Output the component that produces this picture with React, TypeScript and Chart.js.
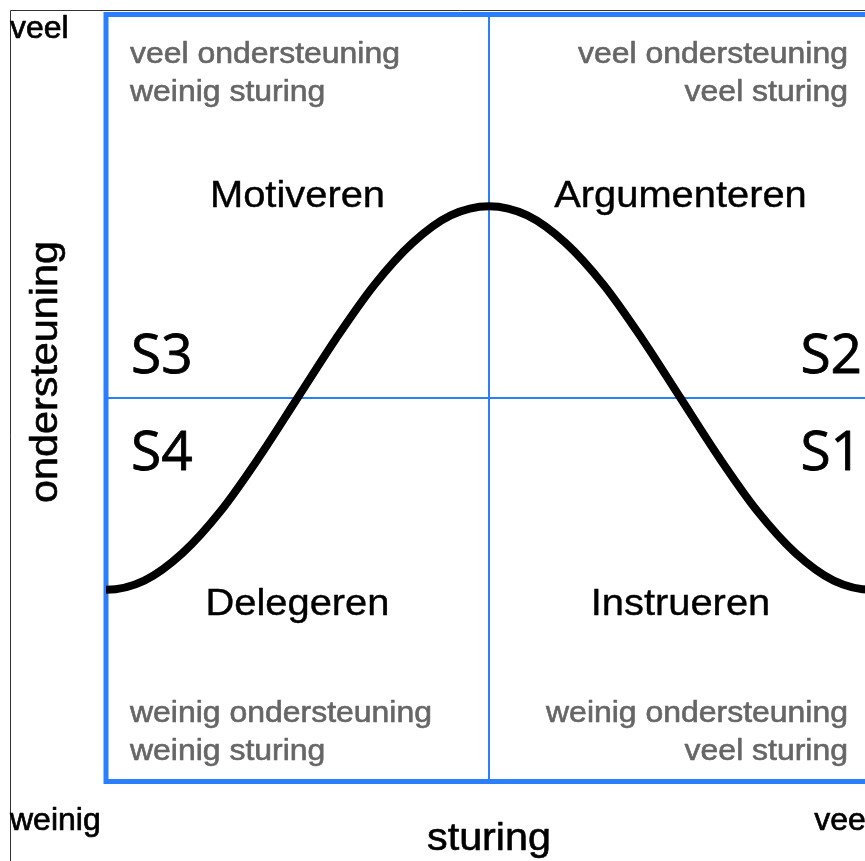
import React, { useEffect, useRef } from "react";
import { Chart, registerables } from "chart.js";

Chart.register(...registerables);

// ---- data ----
const CURVE_X = [-5, 0, 5, 10, 15, 20, 25, 30, 35, 40, 45, 50, 55, 60, 65, 70, 75, 80, 85, 90, 95, 100, 105];
const CURVE_Y = [26.2, 25.0, 26.2, 29.8, 35.3, 42.3, 50.0, 57.7, 64.7, 70.2, 73.8, 75.0, 73.8, 70.2, 64.7, 57.7, 50.0, 42.3, 35.3, 29.8, 26.2, 25.0, 26.2];

const AXIS_X_TITLE = "sturing";
const AXIS_Y_TITLE = "ondersteuning";
const LEVEL_LOW = "weinig";
const LEVEL_HIGH = "veel";

// quadrants: top-left, top-right, bottom-left, bottom-right
const QUADRANT_TITLES = ["Motiveren", "Argumenteren", "Delegeren", "Instrueren"];
const QUADRANT_STYLES = ["S3", "S2", "S4", "S1"];
const QUADRANT_NOTE_1 = ["veel ondersteuning", "veel ondersteuning", "weinig ondersteuning", "weinig ondersteuning"];
const QUADRANT_NOTE_2 = ["weinig sturing", "veel sturing", "weinig sturing", "veel sturing"];

const BLUE = "#2a7fff";
const GRAY = "#666666";
const SANS = "'Liberation Sans', Arial, sans-serif";

function drawText(
  ctx: CanvasRenderingContext2D,
  s: string,
  x: number,
  y: number,
  font: string,
  color: string,
  align: CanvasTextAlign,
  sx = 1,
  rot = 0,
  heavy = 0
) {
  ctx.save();
  ctx.translate(x, y);
  if (rot) ctx.rotate(rot);
  ctx.scale(sx, 1);
  ctx.font = font;
  ctx.fillStyle = color;
  ctx.textAlign = align;
  ctx.textBaseline = "alphabetic";
  ctx.fillText(s, 0, 0);
  if (heavy > 0) {
    ctx.strokeStyle = color;
    ctx.lineWidth = heavy;
    ctx.lineJoin = "round";
    ctx.strokeText(s, 0, 0);
  }
  ctx.restore();
}

function stretchFor(ctx: CanvasRenderingContext2D, s: string, font: string, target: number) {
  ctx.save();
  ctx.font = font;
  const w = ctx.measureText(s).width;
  ctx.restore();
  return w > 0 ? target / w : 1;
}

const framePlugin = {
  id: "frame",
  beforeDatasetsDraw(chart: any) {
    const { ctx, chartArea: a } = chart;
    const xs = chart.scales.x;
    const ys = chart.scales.y;
    ctx.save();
    // outer thin frame
    ctx.strokeStyle = "#333333";
    ctx.lineWidth = 1;
    ctx.beginPath();
    ctx.moveTo(2.5, chart.height);
    ctx.lineTo(2.5, 2.5);
    ctx.lineTo(chart.width, 2.5);
    ctx.stroke();
    // quadrant dividers
    ctx.strokeStyle = BLUE;
    ctx.lineWidth = 2;
    const cx = xs.getPixelForValue(50);
    const cy = ys.getPixelForValue(50);
    ctx.beginPath();
    ctx.moveTo(cx, a.top);
    ctx.lineTo(cx, a.bottom);
    ctx.moveTo(a.left, cy);
    ctx.lineTo(a.right, cy);
    ctx.stroke();
    // box
    ctx.lineWidth = 5;
    ctx.strokeRect(a.left, a.top, a.right - a.left, a.bottom - a.top);
    ctx.restore();
  },
  afterDatasetsDraw(chart: any) {
    const { ctx, chartArea: a } = chart;
    const xs = chart.scales.x;
    const ys = chart.scales.y;
    const cx = xs.getPixelForValue(50);
    const cy = ys.getPixelForValue(50);

    // corner level labels
    const lvlFont = `32px ${SANS}`;
    drawText(ctx, LEVEL_HIGH, 2, 30, lvlFont, "#000", "left", 1, 0, 0.7);
    drawText(ctx, LEVEL_LOW, 2, 822, lvlFont, "#000", "left", 1, 0, 0.7);
    drawText(ctx, LEVEL_HIGH, a.right + 1, 822, lvlFont, "#000", "right", 1, 0, 0.7);

    // axis titles
    const xtFont = `38px ${SANS}`;
    drawText(ctx, AXIS_X_TITLE, cx, 842, xtFont, "#000", "center", stretchFor(ctx, AXIS_X_TITLE, xtFont, 124), 0, 0.6);
    const ytFont = `38px ${SANS}`;
    drawText(ctx, AXIS_Y_TITLE, 49, cy - 26, ytFont, "#000", "center", stretchFor(ctx, AXIS_Y_TITLE, ytFont, 262), -Math.PI / 2, 0.6);

    // quadrant notes (gray)
    const noteFont = `29px ${SANS}`;
    const noteSx = stretchFor(ctx, "veel ondersteuning", noteFont, 270);
    const padX = 24;
    const lefts = [a.left + padX, a.right - padX, a.left + padX, a.right - padX];
    const aligns: CanvasTextAlign[] = ["left", "right", "left", "right"];
    const noteBase = [a.top + 48.5, a.top + 48.5, cy + 324, cy + 324];
    for (let i = 0; i < 4; i++) {
      drawText(ctx, QUADRANT_NOTE_1[i], lefts[i], noteBase[i], noteFont, GRAY, aligns[i], noteSx, 0, 0.6);
      drawText(ctx, QUADRANT_NOTE_2[i], lefts[i], noteBase[i] + 38, noteFont, GRAY, aligns[i], noteSx, 0, 0.6);
    }

    // quadrant titles
    const titleFont = `37px ${SANS}`;
    const titleSx = stretchFor(ctx, "Motiveren", titleFont, 175);
    const tx = [xs.getPixelForValue(25), xs.getPixelForValue(75), xs.getPixelForValue(25), xs.getPixelForValue(75)];
    const ty = [cy - 191, cy - 191, cy + 217, cy + 217];
    for (let i = 0; i < 4; i++) {
      drawText(ctx, QUADRANT_TITLES[i], tx[i], ty[i], titleFont, "#000", "center", titleSx, 0, 0.4);
    }

    // style codes
    const sFont = `55px 'Open Sans', 'Noto Sans', sans-serif`;
    const sx = [a.left + 25, a.right - 10, a.left + 25, a.right - 10];
    const sy = [cy - 25, cy - 25, cy + 72, cy + 72];
    for (let i = 0; i < 4; i++) {
      drawText(ctx, QUADRANT_STYLES[i], sx[i], sy[i], sFont, "#000", aligns[i], 1, 0, 0.8);
    }
  },
};

export default function App() {
  const ref = useRef<HTMLCanvasElement | null>(null);
  useEffect(() => {
    if (!ref.current) return;
    const chart = new Chart(ref.current, {
      type: "line",
      data: {
        datasets: [
          {
            data: CURVE_X.map((x, i) => ({ x, y: CURVE_Y[i] })),
            borderColor: "#000000",
            borderWidth: 8,
            pointRadius: 0,
            cubicInterpolationMode: "monotone",
            fill: false,
            clip: 0,
          },
        ],
      },
      options: {
        responsive: false,
        animation: false,
        devicePixelRatio: 1,
        layout: { padding: { left: 98, right: 36, top: 6.5, bottom: 79.5 } },
        scales: {
          x: { type: "linear", min: 0, max: 100, display: false },
          y: { type: "linear", min: 0, max: 100, display: false },
        },
        plugins: {
          legend: { display: false },
          tooltip: { enabled: false },
          title: { display: false },
        },
        events: [],
      },
      plugins: [framePlugin],
    });
    return () => chart.destroy();
  }, []);
  return (
    <div style={{ position: "fixed", left: 8, top: 8, width: 857, height: 853, overflow: "hidden" }}>
      <canvas ref={ref} width={900} height={853} style={{ display: "block", width: 900, height: 853 }} />
    </div>
  );
}
